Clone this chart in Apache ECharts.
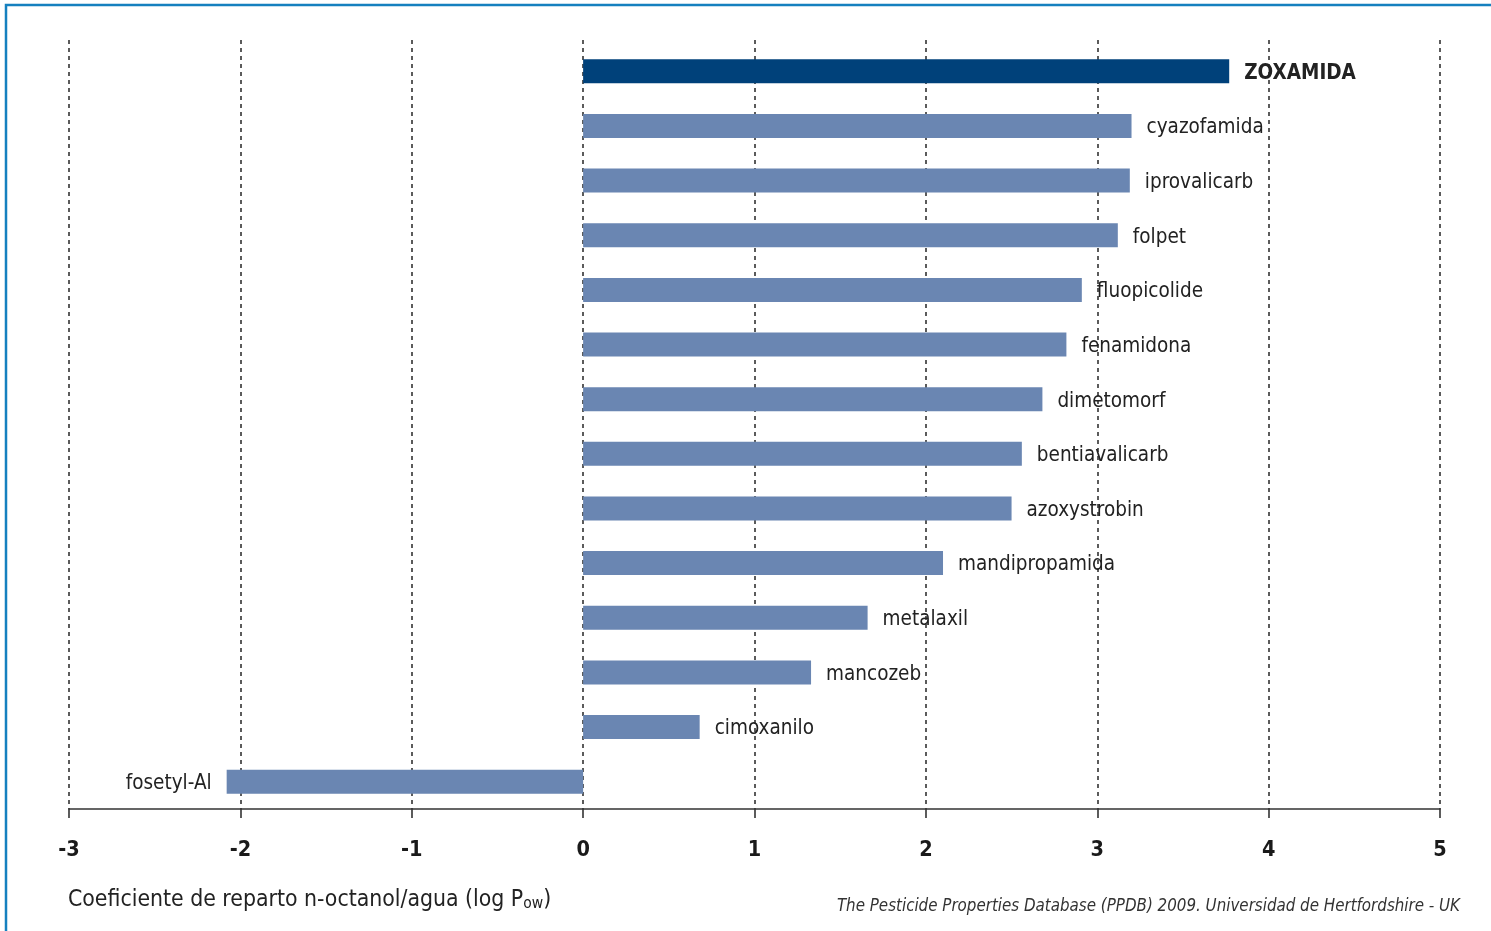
<!DOCTYPE html>
<html>
<head>
<meta charset="utf-8">
<script src="https://cdn.jsdelivr.net/npm/echarts@6/dist/echarts.min.js"></script>
<style>
html,body{margin:0;padding:0;background:#fff;}
#chart{width:1491px;height:931px;}
</style>
</head>
<body>
<div id="chart"></div>
<script>
const categories = ['ZOXAMIDA','cyazofamida','iprovalicarb','folpet','fluopicolide','fenamidona','dimetomorf','bentiavalicarb','azoxystrobin','mandipropamida','metalaxil','mancozeb','cimoxanilo','fosetyl-Al'];
const values = [3.77, 3.20, 3.19, 3.12, 2.91, 2.82, 2.68, 2.56, 2.50, 2.10, 1.66, 1.33, 0.68, -2.08];
const highlight = 'ZOXAMIDA';
const xTicks = [-3, -2, -1, 0, 1, 2, 3, 4, 5];
const axisTitle = 'Coeficiente de reparto n-octanol/agua (log P';
const axisTitleSub = 'ow';
const sourceText = 'The Pesticide Properties Database (PPDB) 2009. Universidad de Hertfordshire - UK';

const FONT = "'Liberation Sans Narrow','DejaVu Sans Condensed','Roboto',sans-serif";
const chart = echarts.init(document.getElementById('chart'));

const data = categories.map((c, i) => {
  const hl = c === highlight;
  return {
    value: values[i],
    itemStyle: { color: hl ? '#00417a' : '#6a86b2' },
    label: {
      position: values[i] < 0 ? 'left' : 'right',
      fontWeight: hl ? 'bold' : 'normal',
      fontSize: 20.5
    }
  };
});

chart.setOption({
  animation: false,
  backgroundColor: '#fff',
  grid: [
    { left: 69, right: 51, top: 40, bottom: 122, containLabel: false },
    { left: 69, right: 51, top: 44, bottom: 122, containLabel: false }
  ],
  xAxis: [
    {
      gridIndex: 0, type: 'value', min: -3, max: 5, interval: 1,
      axisLine: { show: false }, axisTick: { show: false }, axisLabel: { show: false },
      splitLine: { show: true, lineStyle: { color: '#333', width: 1.6, type: [4, 4] } }
    },
    {
      gridIndex: 1, type: 'value', min: -3, max: 5, interval: 1,
      position: 'bottom',
      axisLine: { show: true, onZero: false, lineStyle: { color: '#333', width: 1.6 } },
      axisTick: { show: true, length: 9, lineStyle: { color: '#333', width: 1.6 } },
      splitLine: { show: false },
      axisLabel: {
        margin: 30, color: '#1a1a1a', fontSize: 21.5, fontWeight: 'bold', fontFamily: FONT,
        formatter: v => xTicks.includes(v) ? String(v) : ''
      }
    }
  ],
  yAxis: [
    { gridIndex: 0, type: 'category', data: categories, inverse: true, show: false },
    { gridIndex: 1, type: 'category', data: categories, inverse: true, show: false }
  ],
  series: [{
    type: 'bar',
    xAxisIndex: 1, yAxisIndex: 1,
    data: data,
    barWidth: 24,
    label: {
      show: true,
      formatter: p => categories[p.dataIndex],
      distance: 15,
      offset: [0, 2],
      color: '#222',
      fontFamily: FONT
    }
  }],
  graphic: [
    { type: 'rect', shape: { x: 6, y: 5, width: 1500, height: 1000 }, style: { fill: 'none', stroke: '#1580bf', lineWidth: 2.5 }, silent: true },
    {
      type: 'text', left: 68, top: 889,
      style: {
        text: '{m|' + axisTitle + '}{s|' + axisTitleSub + '}{m|)}',
        rich: {
          m: { fontSize: 22.8, fontFamily: FONT, fill: '#222' },
          s: { fontSize: 15.5, fontFamily: FONT, fill: '#222', padding: [7, 0, 0, 0] }
        }
      }
    },
    {
      type: 'text', right: 31, top: 898,
      style: { text: sourceText, fontSize: 16.8, fontStyle: 'italic', fontFamily: FONT, fill: '#333' }
    }
  ]
});
</script>
</body>
</html>
